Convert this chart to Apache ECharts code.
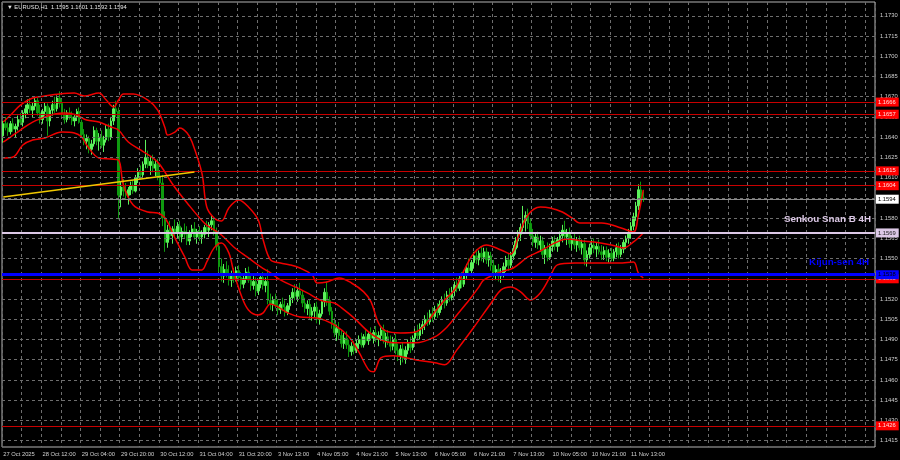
<!DOCTYPE html>
<html><head><meta charset="utf-8">
<script src="https://cdn.jsdelivr.net/npm/echarts@6/dist/echarts.min.js"></script>
<style>html,body{margin:0;padding:0;background:#000}#c{width:900px;height:460px}</style>
</head><body><div id="c"></div>
<script>
// ---- data ----
const titleText = '\u25BC EURUSD,H1  1.1595 1.1601 1.1592 1.1594';
const xTickLabels = ['27 Oct 2025','28 Oct 12:00','29 Oct 04:00','29 Oct 20:00','30 Oct 12:00','31 Oct 04:00','31 Oct 20:00','3 Nov 13:00','4 Nov 05:00','4 Nov 21:00','5 Nov 13:00','6 Nov 05:00','6 Nov 21:00','7 Nov 13:00','10 Nov 05:00','10 Nov 21:00','11 Nov 13:00'];
const yTicks = [1.1415,1.1430,1.1445,1.1460,1.1475,1.1490,1.1505,1.1520,1.1535,1.1550,1.1565,1.1580,1.1595,1.1610,1.1625,1.1640,1.1655,1.1670,1.1685,1.1700,1.1715,1.1730];

const opens = [
1.1641,1.1650,1.1647,1.1644,1.1650,1.1646,1.1648,1.1653,1.1651,1.1658,
1.1661,1.1664,1.1660,1.1663,1.1667,1.1658,1.1653,1.1659,1.1663,1.1652,
1.1660,1.1664,1.1661,1.1669,1.1665,1.1657,1.1653,1.1658,1.1655,1.1652,
1.1655,1.1659,1.1651,1.1642,1.1637,1.1639,1.1631,1.1635,1.1645,1.1637,
1.1640,1.1634,1.1638,1.1646,1.1640,1.1652,1.1661,1.1659,1.1597,1.1603,
1.1600,1.1597,1.1601,1.1604,1.1600,1.1610,1.1614,1.1612,1.1620,1.1625,
1.1619,1.1622,1.1617,1.1620,1.1611,1.1606,1.1580,1.1562,1.1571,1.1567,
1.1572,1.1569,1.1574,1.1566,1.1570,1.1568,1.1563,1.1569,1.1572,1.1566,
1.1570,1.1566,1.1568,1.1573,1.1571,1.1575,1.1578,1.1570,1.1559,1.1544,
1.1537,1.1542,1.1539,1.1534,1.1538,1.1535,1.1541,1.1536,1.1531,1.1535,
1.1540,1.1534,1.1530,1.1533,1.1526,1.1531,1.1536,1.1530,1.1533,1.1519,
1.1516,1.1519,1.1515,1.1512,1.1516,1.1514,1.1510,1.1515,1.1521,1.1525,
1.1522,1.1526,1.1523,1.1517,1.1513,1.1516,1.1508,1.1511,1.1514,1.1505,
1.1509,1.1518,1.1525,1.1519,1.1511,1.1502,1.1495,1.1498,1.1493,1.1487,
1.1491,1.1486,1.1481,1.1485,1.1482,1.1487,1.1490,1.1486,1.1492,1.1489,
1.1494,1.1491,1.1495,1.1490,1.1493,1.1497,1.1489,1.1492,1.1488,1.1485,
1.1490,1.1482,1.1478,1.1483,1.1476,1.1482,1.1487,1.1484,1.1491,1.1495,
1.1493,1.1499,1.1501,1.1505,1.1503,1.1509,1.1507,1.1512,1.1510,1.1516,
1.1519,1.1517,1.1523,1.1521,1.1526,1.1530,1.1528,1.1535,1.1531,1.1538,
1.1543,1.1541,1.1547,1.1552,1.1549,1.1554,1.1551,1.1555,1.1549,1.1552,
1.1545,1.1540,1.1542,1.1537,1.1539,1.1544,1.1549,1.1545,1.1552,1.1557,
1.1563,1.1568,1.1573,1.1578,1.1582,1.1576,1.1567,1.1562,1.1566,1.1560,
1.1563,1.1553,1.1557,1.1551,1.1559,1.1563,1.1559,1.1564,1.1567,1.1571,
1.1566,1.1569,1.1561,1.1564,1.1560,1.1563,1.1558,1.1561,1.1549,1.1553,
1.1558,1.1560,1.1557,1.1559,1.1555,1.1553,1.1556,1.1551,1.1554,1.1550,
1.1555,1.1558,1.1553,1.1557,1.1562,1.1565,1.1569,1.1574,1.1581,1.1589,
1.1601,1.1595];
const highs = [
1.1652,1.1655,1.1651,1.1652,1.1654,1.1650,1.1656,1.1658,1.1660,1.1664,
1.1668,1.1669,1.1666,1.1670,1.1669,1.1664,1.1661,1.1666,1.1665,1.1662,
1.1667,1.1670,1.1671,1.1674,1.1668,1.1661,1.1660,1.1662,1.1659,1.1657,
1.1661,1.1662,1.1653,1.1646,1.1642,1.1641,1.1638,1.1648,1.1647,1.1643,
1.1645,1.1641,1.1649,1.1650,1.1655,1.1664,1.1667,1.1662,1.1607,1.1609,
1.1606,1.1603,1.1607,1.1608,1.1612,1.1617,1.1619,1.1622,1.1638,1.1630,
1.1626,1.1627,1.1623,1.1624,1.1615,1.1612,1.1585,1.1575,1.1578,1.1574,
1.1579,1.1577,1.1578,1.1573,1.1576,1.1574,1.1571,1.1575,1.1577,1.1572,
1.1574,1.1571,1.1575,1.1578,1.1577,1.1582,1.1580,1.1573,1.1562,1.1550,
1.1546,1.1548,1.1545,1.1541,1.1543,1.1544,1.1545,1.1540,1.1538,1.1543,
1.1544,1.1539,1.1537,1.1536,1.1534,1.1538,1.1540,1.1536,1.1542,1.1524,
1.1522,1.1524,1.1520,1.1518,1.1521,1.1519,1.1517,1.1523,1.1528,1.1531,
1.1529,1.1532,1.1526,1.1521,1.1519,1.1520,1.1514,1.1517,1.1518,1.1512,
1.1520,1.1528,1.1533,1.1522,1.1514,1.1506,1.1501,1.1503,1.1497,1.1495,
1.1496,1.1490,1.1488,1.1489,1.1490,1.1493,1.1495,1.1494,1.1497,1.1496,
1.1499,1.1497,1.1500,1.1496,1.1499,1.1501,1.1495,1.1497,1.1493,1.1492,
1.1494,1.1487,1.1486,1.1488,1.1485,1.1490,1.1492,1.1493,1.1498,1.1501,
1.1502,1.1504,1.1508,1.1510,1.1512,1.1514,1.1515,1.1517,1.1519,1.1522,
1.1524,1.1526,1.1528,1.1529,1.1533,1.1536,1.1537,1.1540,1.1540,1.1546,
1.1550,1.1549,1.1555,1.1557,1.1556,1.1559,1.1558,1.1558,1.1555,1.1555,
1.1549,1.1545,1.1546,1.1543,1.1547,1.1552,1.1554,1.1555,1.1560,1.1566,
1.1571,1.1576,1.1589,1.1585,1.1587,1.1580,1.1572,1.1569,1.1570,1.1567,
1.1566,1.1560,1.1562,1.1561,1.1566,1.1567,1.1566,1.1570,1.1575,1.1578,
1.1572,1.1573,1.1567,1.1569,1.1566,1.1567,1.1564,1.1564,1.1556,1.1561,
1.1564,1.1565,1.1562,1.1564,1.1560,1.1559,1.1559,1.1557,1.1558,1.1557,
1.1561,1.1562,1.1560,1.1564,1.1567,1.1572,1.1577,1.1584,1.1592,1.1605,
1.1607,1.1601];
const lows = [
1.1636,1.1645,1.1641,1.1642,1.1644,1.1640,1.1645,1.1649,1.1648,1.1654,
1.1657,1.1658,1.1655,1.1660,1.1656,1.1650,1.1650,1.1656,1.1641,1.1648,
1.1656,1.1658,1.1659,1.1662,1.1655,1.1650,1.1651,1.1653,1.1649,1.1648,
1.1652,1.1650,1.1640,1.1634,1.1631,1.1628,1.1627,1.1633,1.1634,1.1630,
1.1632,1.1629,1.1636,1.1637,1.1638,1.1649,1.1655,1.1579,1.1588,1.1596,
1.1594,1.1590,1.1597,1.1598,1.1599,1.1606,1.1609,1.1610,1.1617,1.1617,
1.1612,1.1614,1.1611,1.1608,1.1603,1.1574,1.1555,1.1558,1.1564,1.1561,
1.1566,1.1565,1.1563,1.1562,1.1565,1.1560,1.1560,1.1566,1.1564,1.1561,
1.1563,1.1561,1.1565,1.1568,1.1566,1.1571,1.1567,1.1556,1.1540,1.1533,
1.1532,1.1536,1.1530,1.1529,1.1532,1.1533,1.1533,1.1527,1.1528,1.1532,
1.1532,1.1526,1.1527,1.1522,1.1523,1.1528,1.1527,1.1525,1.1516,1.1512,
1.1511,1.1513,1.1508,1.1509,1.1511,1.1507,1.1508,1.1512,1.1517,1.1519,
1.1518,1.1520,1.1514,1.1510,1.1508,1.1505,1.1504,1.1506,1.1502,1.1501,
1.1507,1.1514,1.1515,1.1508,1.1498,1.1492,1.1489,1.1490,1.1484,1.1483,
1.1483,1.1477,1.1478,1.1479,1.1480,1.1483,1.1484,1.1484,1.1487,1.1486,
1.1489,1.1487,1.1488,1.1485,1.1489,1.1487,1.1484,1.1486,1.1481,1.1482,
1.1479,1.1474,1.1471,1.1473,1.1472,1.1479,1.1480,1.1482,1.1487,1.1489,
1.1490,1.1494,1.1497,1.1500,1.1501,1.1503,1.1505,1.1506,1.1508,1.1512,
1.1513,1.1515,1.1518,1.1519,1.1522,1.1525,1.1526,1.1528,1.1529,1.1535,
1.1538,1.1537,1.1543,1.1546,1.1545,1.1548,1.1547,1.1546,1.1544,1.1541,
1.1536,1.1534,1.1533,1.1532,1.1536,1.1540,1.1541,1.1543,1.1549,1.1553,
1.1558,1.1563,1.1570,1.1570,1.1572,1.1564,1.1559,1.1558,1.1557,1.1555,
1.1550,1.1546,1.1548,1.1549,1.1555,1.1556,1.1555,1.1559,1.1562,1.1564,
1.1560,1.1558,1.1556,1.1557,1.1555,1.1556,1.1553,1.1545,1.1544,1.1550,
1.1553,1.1554,1.1551,1.1553,1.1549,1.1549,1.1548,1.1547,1.1548,1.1548,
1.1551,1.1550,1.1551,1.1554,1.1557,1.1561,1.1565,1.1571,1.1578,1.1586,
1.1590,1.1592];
const closes = [
1.1650,1.1647,1.1644,1.1650,1.1646,1.1648,1.1653,1.1651,1.1658,1.1661,
1.1664,1.1660,1.1663,1.1667,1.1658,1.1653,1.1659,1.1663,1.1652,1.1660,
1.1664,1.1661,1.1669,1.1665,1.1657,1.1653,1.1658,1.1655,1.1652,1.1655,
1.1659,1.1651,1.1642,1.1637,1.1639,1.1631,1.1635,1.1645,1.1637,1.1640,
1.1634,1.1638,1.1646,1.1640,1.1652,1.1661,1.1659,1.1597,1.1603,1.1600,
1.1597,1.1601,1.1604,1.1600,1.1610,1.1614,1.1612,1.1620,1.1625,1.1619,
1.1622,1.1617,1.1620,1.1611,1.1606,1.1580,1.1562,1.1571,1.1567,1.1572,
1.1569,1.1574,1.1566,1.1570,1.1568,1.1563,1.1569,1.1572,1.1566,1.1570,
1.1566,1.1568,1.1573,1.1571,1.1575,1.1578,1.1570,1.1559,1.1544,1.1537,
1.1542,1.1539,1.1534,1.1538,1.1535,1.1541,1.1536,1.1531,1.1535,1.1540,
1.1534,1.1530,1.1533,1.1526,1.1531,1.1536,1.1530,1.1533,1.1519,1.1516,
1.1519,1.1515,1.1512,1.1516,1.1514,1.1510,1.1515,1.1521,1.1525,1.1522,
1.1526,1.1523,1.1517,1.1513,1.1516,1.1508,1.1511,1.1514,1.1505,1.1509,
1.1518,1.1525,1.1519,1.1511,1.1502,1.1495,1.1498,1.1493,1.1487,1.1491,
1.1486,1.1481,1.1485,1.1482,1.1487,1.1490,1.1486,1.1492,1.1489,1.1494,
1.1491,1.1495,1.1490,1.1493,1.1497,1.1489,1.1492,1.1488,1.1485,1.1490,
1.1482,1.1478,1.1483,1.1476,1.1482,1.1487,1.1484,1.1491,1.1495,1.1493,
1.1499,1.1501,1.1505,1.1503,1.1509,1.1507,1.1512,1.1510,1.1516,1.1519,
1.1517,1.1523,1.1521,1.1526,1.1530,1.1528,1.1535,1.1531,1.1538,1.1543,
1.1541,1.1547,1.1552,1.1549,1.1554,1.1551,1.1555,1.1549,1.1552,1.1545,
1.1540,1.1542,1.1537,1.1539,1.1544,1.1549,1.1545,1.1552,1.1557,1.1563,
1.1568,1.1573,1.1578,1.1582,1.1576,1.1567,1.1562,1.1566,1.1560,1.1563,
1.1553,1.1557,1.1551,1.1559,1.1563,1.1559,1.1564,1.1567,1.1571,1.1566,
1.1569,1.1561,1.1564,1.1560,1.1563,1.1558,1.1561,1.1549,1.1553,1.1558,
1.1560,1.1557,1.1559,1.1555,1.1553,1.1556,1.1551,1.1554,1.1550,1.1555,
1.1558,1.1553,1.1557,1.1562,1.1565,1.1569,1.1574,1.1581,1.1589,1.1601,
1.1595,1.1594];

// envelope lines, read as [bar index, price]
const upperBand = [[0,1.16512],[3,1.16564],[7,1.16638],[12,1.16690],[17,1.16705],[23,1.16720],[29,1.16727],[33,1.16705],[39,1.16727],[42,1.16675],[45,1.16623],[47,1.16675],[49,1.16720],[53,1.16720],[59,1.16675],[63,1.16601],[66,1.16468],[67,1.16416],[70,1.16438],[72,1.16468],[75,1.16431],[77,1.16364],[81,1.16134],[83,1.15882],[86,1.15801],[89,1.15779],[92,1.15875],[96,1.15934],[100,1.15882],[104,1.15786],[106,1.15638],[109,1.15490],[113,1.15467],[117,1.15453],[121,1.15430],[126,1.15379],[128,1.15319],[132,1.15327],[137,1.15356],[142,1.15319],[147,1.15253],[150,1.15179],[153,1.15023],[156,1.14964],[162,1.14949],[168,1.14956],[172,1.15008],[176,1.15104],[180,1.15193],[184,1.15267],[188,1.15416],[192,1.15542],[197,1.15601],[203,1.15564],[207,1.15534],[210,1.15660],[214,1.15823],[219,1.15882],[223,1.15875],[228,1.15845],[232,1.15801],[235,1.15764],[244,1.15764],[252,1.15727],[257,1.15697],[259,1.15823],[261,1.16008]];
const middleBand = [[0,1.16364],[3,1.16401],[7,1.16453],[12,1.16512],[17,1.16549],[21,1.16572],[25,1.16579],[30,1.16564],[34,1.16527],[39,1.16512],[44,1.16475],[47,1.16453],[51,1.16364],[56,1.16305],[61,1.16246],[64,1.16194],[69,1.16053],[75,1.15912],[82,1.15764],[86,1.15712],[89,1.15675],[94,1.15586],[100,1.15505],[105,1.15438],[109,1.15393],[113,1.15342],[119,1.15290],[124,1.15245],[130,1.15186],[135,1.15171],[138,1.15134],[143,1.15060],[149,1.14956],[154,1.14897],[159,1.14875],[168,1.14875],[176,1.14919],[181,1.14993],[185,1.15082],[190,1.15193],[194,1.15290],[196,1.15342],[203,1.15401],[208,1.15430],[214,1.15512],[219,1.15556],[225,1.15616],[230,1.15645],[236,1.15630],[241,1.15623],[248,1.15601],[253,1.15579],[257,1.15623],[261,1.15690]];
const lowerBand = [[0,1.16246],[4,1.16253],[8,1.16342],[12,1.16379],[17,1.16394],[24,1.16438],[29,1.16431],[32,1.16401],[34,1.16342],[39,1.16246],[44,1.16238],[47,1.16231],[49,1.16046],[53,1.15897],[59,1.15845],[63,1.15838],[66,1.15801],[70,1.15653],[74,1.15512],[77,1.15416],[81,1.15416],[83,1.15475],[86,1.15579],[89,1.15616],[92,1.15542],[94,1.15401],[97,1.15230],[100,1.15119],[104,1.15082],[106,1.15097],[109,1.15164],[112,1.15142],[116,1.15097],[121,1.15067],[128,1.15060],[135,1.15008],[141,1.14919],[145,1.14808],[149,1.14675],[151,1.14660],[154,1.14764],[159,1.14779],[168,1.14749],[176,1.14727],[180,1.14712],[185,1.14823],[192,1.14993],[199,1.15171],[203,1.15268],[207,1.15290],[211,1.15253],[215,1.15193],[219,1.15245],[223,1.15364],[226,1.15453],[233,1.15467],[241,1.15467],[251,1.15467],[257,1.15475],[259,1.15393],[261,1.15356]];

const trendStart = [0, 1.15957];
const trendEnd = [78, 1.16142];

const redLevels = [1.1666, 1.1657, 1.1615, 1.1604, 1.1535, 1.1426];
const senkouLevel = 1.1569;
const kijunLevel = 1.1538;
const bidLevel = 1.1594;
const senkouText = 'Senkou Snan B 4H';
const kijunText = 'Kijun-sen 4H';

// ---- chart ----
const SLOTS = 356;
const slots = Array.from({length: SLOTS}, (_, i) => i);
const candles = opens.map((o, i) => [o, closes[i], lows[i], highs[i]]);
const FONT = 'Liberation Sans, Arial, sans-serif';
const small = {fontSize: 5.8, fontFamily: FONT};
const NAMEFONT = '"Liberation Sans", Arial, sans-serif';

const chart = echarts.init(document.getElementById('c'), null, {renderer: 'canvas'});
const boxLabel = (bg, fg) => ({show: true, position: 'end', distance: 1, formatter: p => Number(p.value).toFixed(4),
  backgroundColor: bg, color: fg, padding: [2, 3, 1, 2], ...small});
const mk = (extra) => Object.assign({silent: true, symbol: 'none', animation: false, precision: 5}, extra);

chart.setOption({
  backgroundColor: '#000000',
  animation: false,
  grid: {left: 2, right: 25, top: 2, bottom: 13, show: true, borderColor: '#b4b4b4', borderWidth: 1},
  xAxis: {
    type: 'category', data: slots, boundaryGap: true,
    axisLine: {show: false}, axisTick: {show: false},
    axisLabel: {show: true, interval: 15,
      formatter: (v, idx) => xTickLabels[Math.round(idx / 16)] || '', align: 'left', margin: 4, color: '#d0d0d0', ...small},
    splitLine: {show: true, interval: 7,
      lineStyle: {color: '#6e6e6e', width: 1, type: [3, 3]}}
  },
  yAxis: {
    type: 'value', position: 'right', min: 1.14103, max: 1.17402, scale: true,
    axisLine: {show: false}, axisTick: {show: false}, axisLabel: {show: false}, splitLine: {show: false}
  },
  graphic: [{type: 'text', left: 7, top: 4, style: {text: titleText, fill: '#e6e6e6', font: '5.8px Liberation Sans, Arial, sans-serif'}}],
  series: [
    { // horizontal grid + price axis labels
      type: 'line', data: [], silent: true, z: 1,
      markLine: mk({
        lineStyle: {color: '#6e6e6e', width: 1, type: [3, 3]},
        label: {show: true, position: 'end', distance: 5, color: '#d0d0d0', formatter: p => Number(p.value).toFixed(4), ...small},
        data: yTicks.map(v => ({yAxis: v}))})
    },
    {
      type: 'candlestick', data: candles, z: 3, barWidth: 2,
      itemStyle: {color: '#5cf25c', color0: '#0f9a0f', borderColor: '#5cf25c', borderColor0: '#0f9a0f', borderWidth: 1}
    },
    {type: 'line', data: upperBand, smooth: 0.35, symbol: 'none', z: 4, lineStyle: {color: '#f00000', width: 1.5}},
    {type: 'line', data: middleBand, smooth: 0.35, symbol: 'none', z: 4, lineStyle: {color: '#f00000', width: 1.5}},
    {type: 'line', data: lowerBand, smooth: 0.35, symbol: 'none', z: 4, lineStyle: {color: '#f00000', width: 1.5}},
    {type: 'line', data: [trendStart, trendEnd], symbol: 'none', z: 5, lineStyle: {color: '#f0c800', width: 1.5}},
    { // red levels
      type: 'line', data: [], z: 6,
      markLine: mk({lineStyle: {color: '#c80000', width: 1, type: 'solid'},
        label: boxLabel('#ff0000', '#ffe0e0'),
        data: redLevels.map(v => ({yAxis: v}))})
    },
    { // bid line
      type: 'line', data: [], z: 6,
      markLine: mk({lineStyle: {color: '#8c8c8c', width: 1, type: 'solid'},
        label: boxLabel('#ffffff', '#000000'),
        data: [{yAxis: bidLevel}]})
    },
    { // senkou span B
      type: 'line', data: [], z: 7,
      markLine: mk({lineStyle: {color: '#dcc8e6', width: 2, type: 'solid'},
        label: boxLabel('#dcc8e6', '#202020'),
        data: [{yAxis: senkouLevel}]})
    },
    { // kijun-sen
      type: 'line', data: [], z: 7,
      markLine: mk({lineStyle: {color: '#0000ff', width: 3, type: 'solid'},
        label: boxLabel('#0000ff', '#000000'),
        data: [{yAxis: kijunLevel}]})
    },
    { // names of the two levels
      type: 'line', data: [], z: 8,
      markLine: mk({lineStyle: {color: 'rgba(0,0,0,0)', width: 0},
        label: {show: true, position: 'insideEndTop', formatter: p => p.name, fontWeight: 'bold', fontSize: 9.8, fontFamily: NAMEFONT},
        data: [
          {yAxis: senkouLevel, name: senkouText, label: {distance: [4, 9], color: '#dcc8e6'}},
          {yAxis: kijunLevel, name: kijunText, label: {distance: [6, 7], color: '#0000ff'}}
        ]})
    }
  ]
});
</script>
</body></html>
